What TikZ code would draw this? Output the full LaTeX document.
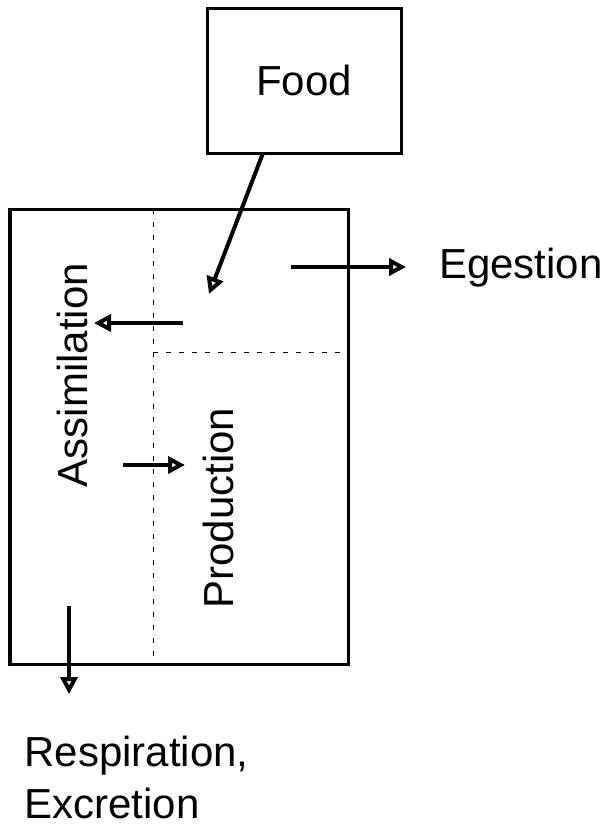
\documentclass[tikz,border=0pt]{standalone}
\usepackage{fontspec}
\setmainfont{Liberation Sans}
\usetikzlibrary{arrows.meta}

\begin{document}
\begin{tikzpicture}[
            x=0.5pt, y=-0.5pt,
            box/.style={rectangle, draw=black, line width=1.5pt, inner sep=0pt},
            label/.style={font=\fontsize{21}{26}\selectfont},
            divider/.style={draw=black, line width=0.5pt, dash pattern=on 2.5pt off 4pt},
            flow/.style={-{Triangle[open, length=8.5pt, width=8.5pt, line width=2pt]}, line width=2pt}
        ]
            \useasboundingbox (0,0) rectangle (609,827);

            \node[box, minimum width=97pt, minimum height=72.5pt, label] (food) at (304,80.5) {Food};
            \node[box, minimum width=169pt, minimum height=227.5pt] (body) at (179,436.5) {};

            \draw[divider] (153,209) -- (153,664);
            \draw[divider] (153,352) -- (348,352);

            \node[label, rotate=90] (assim) at (72,375) {Assimilation};
            \node[label, rotate=90] (prod) at (218,508) {Production};
            \node[label, anchor=west] (egest) at (432,268) {Egestion};
            \node[label, anchor=north west, align=left, inner sep=0pt] (resp) at (24,736) {Respiration,\\Excretion};

            \coordinate (foodout) at (263,153);
            \coordinate (foodin) at (209,294);
            \coordinate (egfrom) at (291,267);
            \coordinate (egto) at (406,267);
            \coordinate (asfrom) at (183,323);
            \coordinate (asto) at (94,323);
            \coordinate (prfrom) at (123,465);
            \coordinate (prto) at (185,465);
            \coordinate (rsfrom) at (69,606);
            \coordinate (rsto) at (69,694);

            \draw[flow] (foodout) -- (foodin);
            \draw[flow] (egfrom) -- (egto);
            \draw[flow] (asfrom) -- (asto);
            \draw[flow] (prfrom) -- (prto);
            \draw[flow] (rsfrom) -- (rsto);
        \end{tikzpicture}
\end{document}
